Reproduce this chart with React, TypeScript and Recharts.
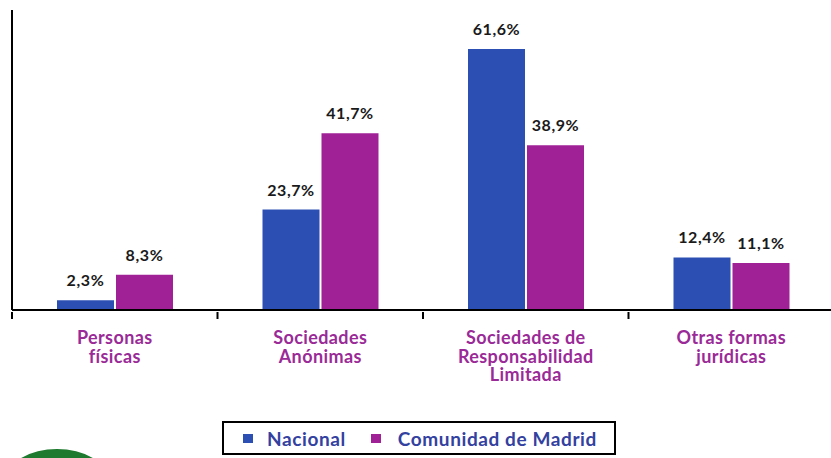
import React from "react";
import { BarChart, Bar, XAxis, YAxis, LabelList, Legend } from "recharts";

const categories = [
  "Personas\nfísicas",
  "Sociedades\nAnónimas",
  "Sociedades de\nResponsabilidad\nLimitada",
  "Otras formas\njurídicas",
];
const nacional = [2.3, 23.7, 61.6, 12.4];
const madrid = [8.3, 41.7, 38.9, 11.1];
const seriesNames = ["Nacional", "Comunidad de Madrid"];

const data = categories.map((c, i) => ({ cat: c, nacional: nacional[i], madrid: madrid[i] }));

const BLUE = "#2c4fb4";
const MAGENTA = "#a02196";
const LABEL_PURPLE = "#9a2a97";
const FONT = "Lato, 'Open Sans', sans-serif";

const fmt = (v: any) => `${Number(v).toFixed(1).replace(".", ",")}%`;

const CatTick = (props: any) => {
  const { x, y, payload, index } = props;
  const half = payload && typeof payload.offset === "number" && payload.offset > 0 ? payload.offset : 102.75;
  const lines = String(payload.value).split("\n");
  return (
    <g>
      <line x1={x + half} x2={x + half} y1={y} y2={y + 7} stroke="#000" strokeWidth={2} />
      {index === 0 && <line x1={x - half} x2={x - half} y1={y} y2={y + 7} stroke="#000" strokeWidth={2} />}
      <text
        x={x}
        y={y + 32}
        textAnchor="middle"
        fill={LABEL_PURPLE}
        fontFamily={FONT}
        fontSize={18}
        fontWeight={700}
        letterSpacing={0.4}
      >
        {lines.map((l, i) => (
          <tspan key={i} x={x} dy={i === 0 ? 0 : 18.5}>
            {l}
          </tspan>
        ))}
      </text>
    </g>
  );
};

const LegendBox = () => (
  <div
    style={{
      boxSizing: "border-box",
      width: 394,
      height: 34,
      border: "2px solid #000",
      background: "#fff",
      display: "flex",
      alignItems: "center",
      fontFamily: FONT,
      fontSize: 19,
      fontWeight: 700,
      letterSpacing: 0.6,
      color: "#3341a0",
      whiteSpace: "nowrap",
    }}
  >
    <span style={{ display: "inline-block", width: 10, height: 9, background: BLUE, marginLeft: 19 }} />
    <span style={{ marginLeft: 14 }}>{seriesNames[0]}</span>
    <span style={{ display: "inline-block", width: 10, height: 9, background: MAGENTA, marginLeft: 25 }} />
    <span style={{ marginLeft: 17 }}>{seriesNames[1]}</span>
  </div>
);

export default function App() {
  return (
    <div style={{ position: "fixed", left: 0, top: 0, width: 831, height: 458, overflow: "hidden", background: "#fff" }}>
      <BarChart
        width={840}
        height={458}
        data={data}
        margin={{ top: 10, right: 6, left: 11, bottom: 3 }}
        barSize={57}
        barGap={2}
      >
        <YAxis
          domain={[0, 70.8]}
          width={1}
          tick={false}
          tickLine={false}
          axisLine={{ stroke: "#000", strokeWidth: 2 }}
        />
        <XAxis
          dataKey="cat"
          height={111}
          interval={0}
          tickLine={false}
          tickSize={0}
          tick={<CatTick />}
          axisLine={{ stroke: "#000", strokeWidth: 2 }}
        />
        <Legend
          verticalAlign="bottom"
          height={34}
          content={<LegendBox />}
          wrapperStyle={{ left: 222, width: 394, bottom: 3 }}
        />
        <Bar dataKey="nacional" name={seriesNames[0]} fill={BLUE} isAnimationActive={false}>
          <LabelList dataKey="nacional" position="top" offset={14} formatter={fmt} fill="#1a1a1a" fontFamily={FONT} fontSize={16} fontWeight={700} letterSpacing={0.6} />
        </Bar>
        <Bar dataKey="madrid" name={seriesNames[1]} fill={MAGENTA} isAnimationActive={false}>
          <LabelList dataKey="madrid" position="top" offset={14} formatter={fmt} fill="#1a1a1a" fontFamily={FONT} fontSize={16} fontWeight={700} letterSpacing={0.6} />
        </Bar>
      </BarChart>
      <div
        style={{
          position: "absolute",
          left: 7,
          top: 449,
          width: 100,
          height: 60,
          borderRadius: "50%",
          background: "#1e7a2e",
        }}
      />
    </div>
  );
}
